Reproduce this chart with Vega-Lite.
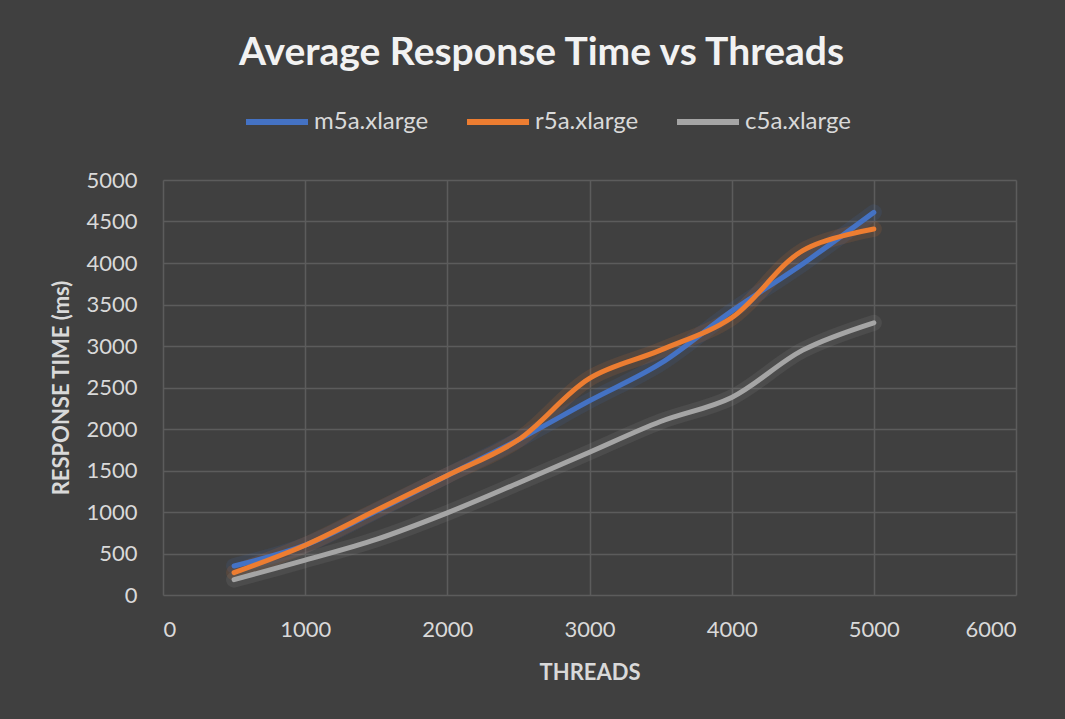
{
  "$schema": "https://vega.github.io/schema/vega-lite/v6.json",
  "autosize": {"type": "none"},
  "width": 853,
  "height": 415,
  "padding": {"left": 163, "top": 180, "right": 49, "bottom": 124},
  "background": "#404040",
  "title": {
    "text": "Average Response Time vs Threads",
    "font": "Lato",
    "fontSize": 39,
    "fontWeight": "bold",
    "color": "#f2f2f2",
    "anchor": "middle",
    "frame": "group",
    "dx": -48,
    "offset": 15
  },
  "config": {
    "view": {"stroke": null},
    "axis": {
      "labelFont": "Lato",
      "labelFontSize": 22,
      "labelColor": "#d9d9d9",
      "titleFont": "Lato",
      "titleFontSize": 22,
      "titleFontWeight": "bold",
      "titleColor": "#d9d9d9",
      "gridColor": "#5c5c5c",
      "gridWidth": 1.5,
      "domain": false,
      "ticks": false,
      "format": "d"
    },
    "legend": {
      "orient": "none",
      "legendX": 80,
      "legendY": -92,
      "direction": "horizontal",
      "symbolType": "stroke",
      "symbolSize": 3844,
      "symbolStrokeWidth": 6,
      "symbolOpacity": 1,
      "labelFont": "Lato",
      "labelFontSize": 24,
      "labelColor": "#d9d9d9",
      "labelOffset": 3,
      "columnPadding": 26,
      "title": null
    }
  },
  "data": {
    "values": [
      {"threads": 500, "type": "m5a.xlarge", "time": 350},
      {"threads": 1000, "type": "m5a.xlarge", "time": 600},
      {"threads": 1500, "type": "m5a.xlarge", "time": 1010},
      {"threads": 2000, "type": "m5a.xlarge", "time": 1440},
      {"threads": 2500, "type": "m5a.xlarge", "time": 1870},
      {"threads": 3000, "type": "m5a.xlarge", "time": 2340},
      {"threads": 3500, "type": "m5a.xlarge", "time": 2790},
      {"threads": 4000, "type": "m5a.xlarge", "time": 3420},
      {"threads": 4500, "type": "m5a.xlarge", "time": 3990},
      {"threads": 5000, "type": "m5a.xlarge", "time": 4610},
      {"threads": 500, "type": "r5a.xlarge", "time": 270},
      {"threads": 1000, "type": "r5a.xlarge", "time": 600},
      {"threads": 1500, "type": "r5a.xlarge", "time": 1020},
      {"threads": 2000, "type": "r5a.xlarge", "time": 1440},
      {"threads": 2500, "type": "r5a.xlarge", "time": 1870},
      {"threads": 3000, "type": "r5a.xlarge", "time": 2610},
      {"threads": 3500, "type": "r5a.xlarge", "time": 2950},
      {"threads": 4000, "type": "r5a.xlarge", "time": 3340},
      {"threads": 4500, "type": "r5a.xlarge", "time": 4150},
      {"threads": 5000, "type": "r5a.xlarge", "time": 4410},
      {"threads": 500, "type": "c5a.xlarge", "time": 185},
      {"threads": 1000, "type": "c5a.xlarge", "time": 420},
      {"threads": 1500, "type": "c5a.xlarge", "time": 670},
      {"threads": 2000, "type": "c5a.xlarge", "time": 990},
      {"threads": 2500, "type": "c5a.xlarge", "time": 1350},
      {"threads": 3000, "type": "c5a.xlarge", "time": 1720},
      {"threads": 3500, "type": "c5a.xlarge", "time": 2090},
      {"threads": 4000, "type": "c5a.xlarge", "time": 2380},
      {"threads": 4500, "type": "c5a.xlarge", "time": 2950},
      {"threads": 5000, "type": "c5a.xlarge", "time": 3280}
    ]
  },
  "encoding": {
    "x": {
      "field": "threads",
      "type": "quantitative",
      "scale": {"domain": [0, 6000], "nice": false},
      "axis": {"values": [0, 1000, 2000, 3000, 4000, 5000, 6000], "title": "THREADS", "labelPadding": 24, "titlePadding": 22}
    },
    "y": {
      "field": "time",
      "type": "quantitative",
      "scale": {"domain": [0, 5000], "nice": false},
      "axis": {"values": [0, 500, 1000, 1500, 2000, 2500, 3000, 3500, 4000, 4500, 5000], "title": "RESPONSE TIME (ms)", "labelPadding": 26, "titlePadding": 12}
    },
    "color": {"field": "type", "type": "nominal", "scale": {"domain": ["m5a.xlarge", "r5a.xlarge", "c5a.xlarge"], "range": ["#4472C4", "#ED7D31", "#A5A5A5"]}, "sort": ["m5a.xlarge", "r5a.xlarge", "c5a.xlarge"]}
  },
  "layer": [
    {
      "mark": {"type": "line", "interpolate": "catmull-rom", "strokeWidth": 16, "opacity": 0.12, "strokeCap": "round"}
    },
    {
      "mark": {"type": "line", "interpolate": "catmull-rom", "strokeWidth": 5, "strokeCap": "round"}
    }
  ]
}
